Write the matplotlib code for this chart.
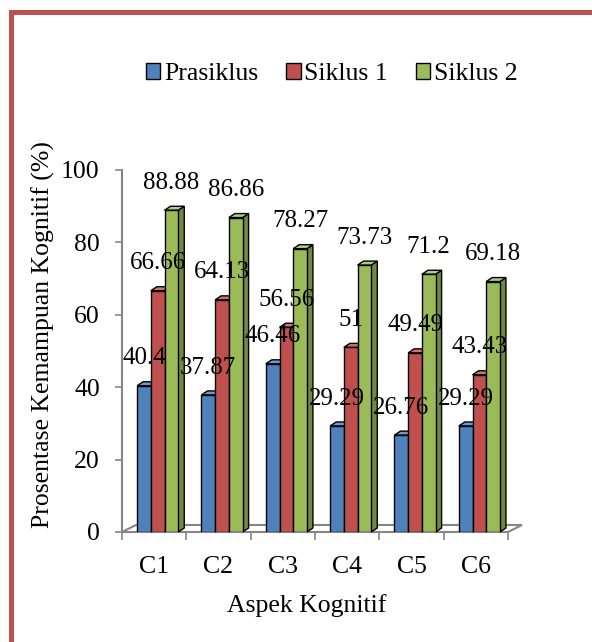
import numpy as np
import matplotlib
matplotlib.use("Agg")
import matplotlib.pyplot as plt
from matplotlib.patches import Polygon, Patch, Rectangle

categories = ["C1", "C2", "C3", "C4", "C5", "C6"]
series_names = ["Prasiklus", "Siklus 1", "Siklus 2"]
prasiklus = [40.4, 37.87, 46.46, 29.29, 26.76, 29.29]
siklus_1 = [66.66, 64.13, 56.56, 51, 49.49, 43.43]
siklus_2 = [88.88, 86.86, 78.27, 73.73, 71.2, 69.18]

face_colors = ["#4F81BD", "#C0504D", "#9BBB59"]
side_colors = ["#3A5F8C", "#8E3B39", "#718A40"]
top_colors = ["#6F98CC", "#D0716E", "#B0CB7A"]

plt.rcParams["font.family"] = ["Liberation Serif", "DejaVu Serif"]

fig = plt.figure(figsize=(5.92, 6.42), dpi=100)
ax = fig.add_axes([122 / 592, 1 - 532 / 642, 386 / 592, 362 / 642])
ax.set_xlim(-0.5, 5.5)
ax.set_ylim(0, 100)

# pixel sizes of the pseudo-3D depth, converted to data units
unit_x = 6 / 386.0
unit_y = 100 / 362.0
bar_dx, bar_dy = 6 * unit_x, 4 * unit_y
floor_dx, floor_dy = 14 * unit_x, 7 * unit_y

width = 0.213
shift = 0.055
grey = "#868686"

# floor
floor = Polygon([(-0.5, 0), (5.5, 0), (5.5 + floor_dx, floor_dy), (-0.5 + floor_dx, floor_dy)],
                closed=True, facecolor="white", edgecolor=grey, lw=1.5, clip_on=False, zorder=1)
ax.add_patch(floor)

series = [prasiklus, siklus_1, siklus_2]
x = np.arange(len(categories))
for i in range(len(categories)):
    for k, vals in enumerate(series):
        v = vals[i]
        x0 = x[i] + shift + (k - 1) * width - width / 2
        x1 = x0 + width
        z = 3 + i * 3 + k
        ax.add_patch(Polygon([(x1, 0), (x1 + bar_dx, bar_dy), (x1 + bar_dx, v + bar_dy), (x1, v)],
                             closed=True, facecolor=side_colors[k], edgecolor="black",
                             lw=1.0, zorder=z, clip_on=False))
        ax.add_patch(Polygon([(x0, v), (x1, v), (x1 + bar_dx, v + bar_dy), (x0 + bar_dx, v + bar_dy)],
                             closed=True, facecolor=top_colors[k], edgecolor="black",
                             lw=1.0, zorder=z, clip_on=False))
        ax.bar(x0, v, width=width, align="edge", color=face_colors[k], edgecolor="black",
               lw=1.0, zorder=z)

# value labels above each bar
for k, vals in enumerate(series):
    for i, v in enumerate(vals):
        cx = x[i] + shift + (k - 1) * width
        ax.text(cx, v + 5.9, f"{v:g}", ha="center", va="baseline", fontsize=18,
                zorder=50, clip_on=False)

for s in ["top", "right", "bottom"]:
    ax.spines[s].set_visible(False)
ax.spines["left"].set_color(grey)
ax.spines["left"].set_linewidth(1.5)

ax.set_yticks(np.arange(0, 101, 20))
ax.tick_params(axis="y", direction="out", length=5, width=1.2, color=grey, labelsize=18.5, pad=11)
ax.set_xticks(x)
ax.set_xticklabels(categories)
ax.set_xticks(np.arange(-0.5, 6.0, 1.0), minor=True)
ax.tick_params(axis="x", which="major", length=0, labelsize=18.5, pad=17)
ax.tick_params(axis="x", which="minor", direction="out", length=6, width=1.2, color=grey)
ax.patch.set_alpha(0)

fig.text(43 / 592, 1 - 335 / 642, "Prosentase Kemampuan Kognitif (%)", rotation=90,
         ha="center", va="center", fontsize=18.5)
fig.text(307 / 592, 1 - 606 / 642, "Aspek Kognitif", ha="center", va="center", fontsize=18.5)

handles = [Patch(facecolor=c, edgecolor="black", lw=1.0) for c in face_colors]
fig.legend(handles, series_names, loc="center", bbox_to_anchor=(332 / 592, 1 - 74 / 642),
           ncol=3, frameon=False, fontsize=18.5, handlelength=0.55, handleheight=0.6,
           handletextpad=0.15, columnspacing=1.1, borderpad=0)

# red frame along the left and top edges
red = "#C0504D"
fig.patches.append(Rectangle((9, 0), 5, 642 - 10, transform=None, facecolor=red,
                             edgecolor="none", figure=fig))
fig.patches.append(Rectangle((9, 642 - 15), 592 - 9, 5, transform=None, facecolor=red,
                             edgecolor="none", figure=fig))

fig.savefig("out.png", dpi=100, facecolor="white")
